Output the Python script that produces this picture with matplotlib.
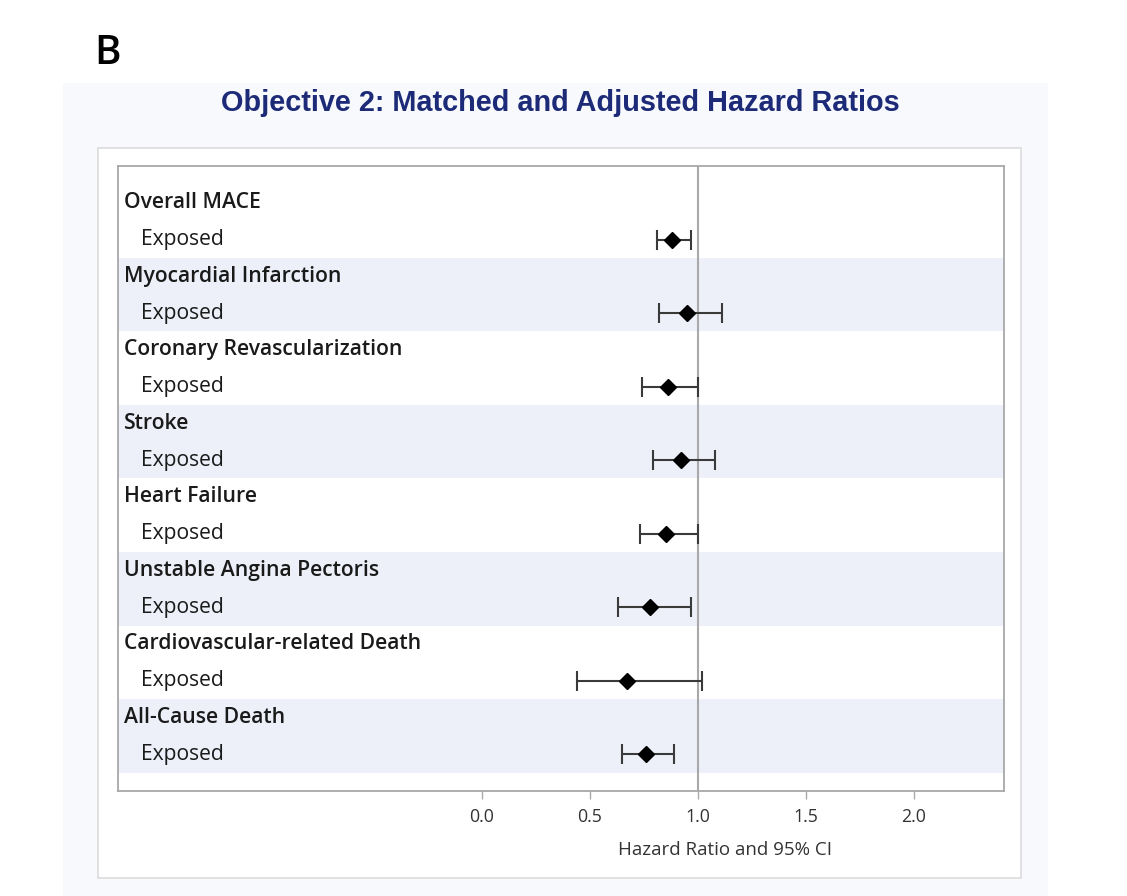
import matplotlib
matplotlib.use("Agg")
import matplotlib.pyplot as plt
from matplotlib.patches import Rectangle
import matplotlib.transforms as mtransforms

outcomes = ["Overall MACE", "Myocardial Infarction", "Coronary Revascularization",
            "Stroke", "Heart Failure", "Unstable Angina Pectoris",
            "Cardiovascular-related Death", "All-Cause Death"]
sub_label = "Exposed"
hr = [0.88, 0.95, 0.86, 0.92, 0.85, 0.78, 0.67, 0.76]
lower = [0.81, 0.82, 0.74, 0.79, 0.73, 0.63, 0.44, 0.65]
upper = [0.97, 1.11, 1.00, 1.08, 1.00, 0.97, 1.02, 0.89]
xticks = [0.0, 0.5, 1.0, 1.5, 2.0]
xtick_labels = ["0.0", "0.5", "1.0", "1.5", "2.0"]

W, H = 1127, 896
fig = plt.figure(figsize=(W / 100, H / 100), dpi=100)
fig.patch.set_facecolor("white")

def fr(x0, y0, x1, y1):
    # pixel box (top-left origin) -> figure fraction rect
    return (x0 / W, 1 - y1 / H, (x1 - x0) / W, (y1 - y0) / H)

# light panel background
x, y, w, h = fr(63, 83, 1048, 896)
fig.patches.append(Rectangle((x, y), w, h, transform=fig.transFigure,
                             facecolor="#f8f9fd", edgecolor="none", zorder=0))
# white frame
x, y, w, h = fr(98, 148, 1021, 878)
fig.patches.append(Rectangle((x, y), w, h, transform=fig.transFigure,
                             facecolor="white", edgecolor="#dcdcdc", lw=1.2, zorder=1))

fig.text(94 / W, 1 - 54 / H, "B", fontsize=29, family="Open Sans",
         fontweight="semibold", color="black", va="center", ha="left")
fig.text(560 / W, 1 - 103 / H, "Objective 2: Matched and Adjusted Hazard Ratios",
         fontsize=20.8, fontweight="bold", family="Liberation Sans",
         color="#1c2a78", ha="center", va="center")

ax = fig.add_axes(fr(118, 166, 1004, 791))
ax.set_zorder(2)
ax.set_xlim(-1.685, 2.417)
ax.set_ylim(16.0, -1.0)

n = len(outcomes)
for k in range(n):
    if k % 2 == 1:
        ax.axhspan(2 * k - 0.5, 2 * k + 1.5, color="#edf0f9", lw=0, zorder=0)

ax.axvline(1.0, color="#a9a9a9", lw=1.5, zorder=1)

ys = [2 * k + 1 for k in range(n)]
xerr = [[h_ - l for h_, l in zip(hr, lower)], [u - h_ for h_, u in zip(hr, upper)]]
ax.errorbar(hr, ys, xerr=xerr, fmt="none", ecolor="#3a3a3a", elinewidth=1.5,
            capsize=7.5, capthick=1.5, zorder=3)
ax.plot(hr, ys, linestyle="none", marker="D", markersize=8.5,
        color="black", zorder=4)

blend = mtransforms.blended_transform_factory(ax.transAxes, ax.transData)
for k, name in enumerate(outcomes):
    ax.text(0.0068, 2 * k, name, transform=blend, fontsize=15.2,
            fontweight="semibold", family="Open Sans", color="#1a1a1a",
            va="center", ha="left")
    ax.text(0.026, 2 * k + 1, sub_label, transform=blend, fontsize=15.2,
            family="Open Sans", color="#1a1a1a", va="center", ha="left")

ax.set_xticks(xticks)
ax.set_xticklabels(xtick_labels, fontsize=12.8, family="Open Sans", color="#333333")
ax.tick_params(axis="x", direction="out", length=6, width=1, color="#aaaaaa", pad=6)
ax.set_yticks([])
for s in ax.spines.values():
    s.set_color("#a8a8a8")
    s.set_linewidth(1.3)

ax.text(1.125, -0.0944, "Hazard Ratio and 95% CI",
        transform=mtransforms.blended_transform_factory(ax.transData, ax.transAxes),
        fontsize=13.5, family="Open Sans", color="#333333", ha="center", va="center")

fig.savefig("out.png", dpi=100)
